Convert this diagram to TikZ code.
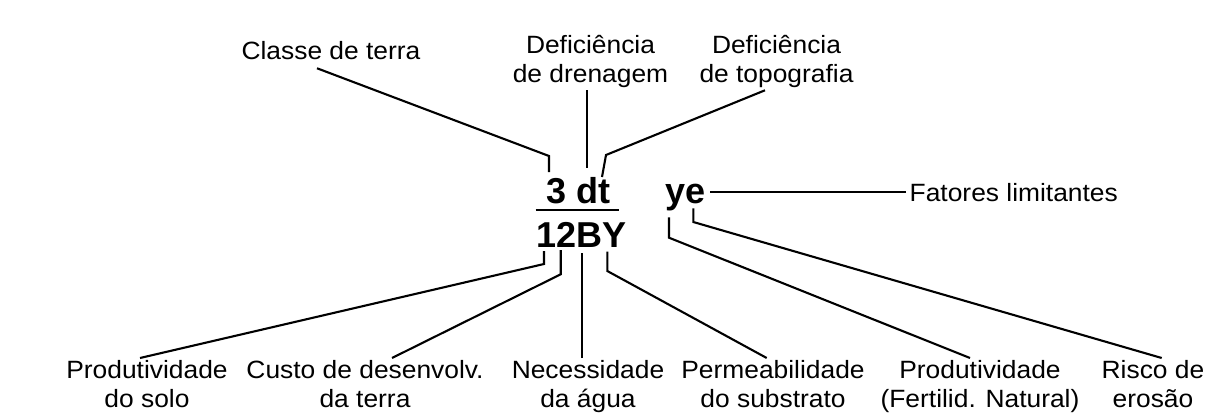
\documentclass[tikz,border=0pt]{standalone}
\usepackage{fontspec}
\setmainfont{Liberation Sans}
\newfontfamily\rotfont[FakeStretch=1.055]{Liberation Sans}
\usepackage{tikz}

\begin{document}
\begin{tikzpicture}[x=1pt,y=-1pt,
  rotulo/.style={font=\rotfont\fontsize{25}{29}\selectfont,align=center,inner sep=0pt},
  simbolo/.style={font=\bfseries\fontsize{36}{40}\selectfont,inner sep=0pt},
  linha/.style={line width=2.1pt}]
\useasboundingbox (0,0) rectangle (1208,415);
% simbolo da classe
\node[simbolo,anchor=base] (cima) at (578.3,203.3) {3 dt};
\node[simbolo,anchor=base] (baixo) at (581.7,247.3) {12BY};
\node[simbolo,anchor=base west] (ye) at (665,203.3) {ye};
\coordinate (barraE) at (535.7,210.3);
\coordinate (barraD) at (619.3,210.3);
\draw[line width=2.2pt] (barraE) -- (barraD); %traco da fracao
% rotulos de cima
\node[rotulo,anchor=north] (classe) at (331,41) {Classe de terra};
\node[rotulo,anchor=north] (dren) at (590.5,35) {Deficiência\\de drenagem};
\node[rotulo,anchor=north] (topo) at (776.5,35) {Deficiência\\de topografia};
\node[rotulo,anchor=west] (fatores) at (909.5,192.3) {Fatores limitantes};
% rotulos de baixo
\node[rotulo,anchor=north] (solo) at (147,360.5) {Produtividade\\do solo};
\node[rotulo,anchor=north] (custo) at (365,360.5) {Custo de desenvolv.\\da terra};
\node[rotulo,anchor=north] (agua) at (588,360.5) {Necessidade\\da água};
\node[rotulo,anchor=north] (subst) at (773,360.5) {Permeabilidade\\do substrato};
\node[rotulo,anchor=north] (fert) at (980,360.5) {Produtividade\\(Fertilid. Natural)};
\node[rotulo,anchor=north] (erosao) at (1153,360.5) {Risco de\\erosão};
% pontas junto ao simbolo
\coordinate (c3) at (549,172);
\coordinate (cd) at (587.3,168.3);
\coordinate (ct) at (602,177);
\coordinate (c1) at (544,251);
\coordinate (c2) at (560.7,250);
\coordinate (cB) at (581.7,253.3);
\coordinate (cY) at (607.3,251.7);
\coordinate (cy) at (669,217.3);
\coordinate (ce) at (693.3,208.3);
% linhas
\draw[linha] ([xshift=-14pt,yshift=-8.5pt]classe.south) -- (549,156) -- (c3);
\draw[linha] ([xshift=-3.2pt,yshift=-2.5pt]dren.south) -- (cd);
\draw[linha] ([xshift=-11.5pt,yshift=-2.5pt]topo.south) -- (606,155) -- (ct);
\draw[linha] ([xshift=-3.5pt]fatores.west) -- ([xshift=4.5pt]ye.east |- fatores.west);
\draw[linha] ([xshift=-7pt,yshift=2.5pt]solo.north) -- (544,264) -- (c1);
\draw[linha] ([xshift=27pt,yshift=2.5pt]custo.north) -- (560.7,274.3) -- (c2);
\draw[linha] ([xshift=-6.3pt,yshift=2.5pt]agua.north) -- (cB);
\draw[linha] ([xshift=-6.3pt,yshift=2.5pt]subst.north) -- (607.3,271) -- (cY);
\draw[linha] ([xshift=-10pt,yshift=2.5pt]fert.north) -- (669,237.7) -- (cy);
\draw[linha] ([xshift=8.7pt,yshift=2.5pt]erosao.north) -- (693.3,222) -- (ce);
\end{tikzpicture}
\end{document}
